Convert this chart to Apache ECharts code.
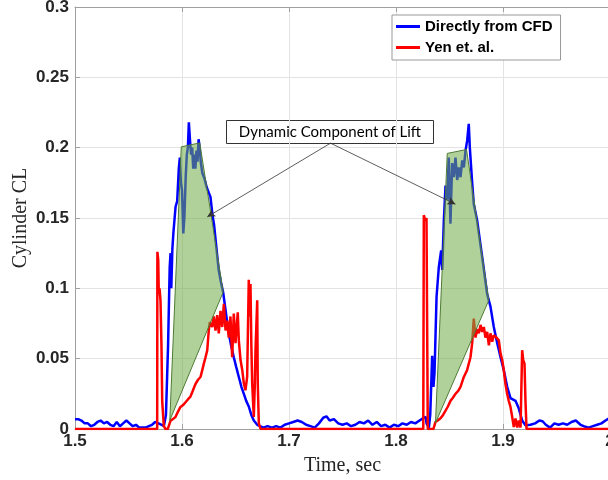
<!DOCTYPE html>
<html>
<head>
<meta charset="utf-8">
<script src="https://cdn.jsdelivr.net/npm/echarts@6/dist/echarts.min.js"></script>
<style>
  html, body { margin: 0; padding: 0; background: #fff; }
  #chart { width: 608px; height: 480px; }
</style>
</head>
<body>
<div id="chart"></div>
<script>
// lift from CFD (blue)
var cfdTime = [1.500,1.503,1.506,1.509,1.512,1.515,1.518,1.521,1.524,1.527,1.530,1.533,1.536,1.539,1.542,1.545,1.548,1.551,1.554,1.557,1.560,1.563,1.566,1.569,1.572,1.575,1.578,1.581,1.583,
  1.585,1.587,1.5885,1.5893,1.5900,1.5910,1.5920,1.5940,1.5955,1.5970,1.5980,1.5990,1.6000,1.6012,1.6022,1.6035,1.6045,1.6055,1.6064,1.6075,1.6085,1.6095,1.6105,1.6115,1.6125,1.6135,1.6145,1.6155,1.6165,1.6175,1.6190,1.6210,1.6230,1.6250,1.6266,1.6285,1.6300,1.6320,1.6343,1.6365,1.6385,1.6391,1.6415,1.6437,1.6460,1.6484,1.6507,1.6531,1.6555,1.6578,1.6600,1.6624,1.6648,1.6671,1.6703,
  1.672,1.676,1.680,1.684,1.688,1.692,1.696,1.700,1.704,1.708,1.712,1.716,1.720,1.724,1.728,1.732,1.735,1.738,1.742,1.746,1.750,1.754,1.758,1.762,1.766,1.770,1.774,1.778,1.782,1.786,1.790,1.794,1.798,1.802,1.806,1.810,1.814,1.818,1.822,1.826,1.828,
  1.8285,1.8307,1.8320,1.8338,1.8350,1.8360,1.8379,1.8400,1.8422,1.8432,1.8447,1.8463,1.8479,1.8493,1.8509,1.8525,1.8540,1.8556,1.8572,1.8587,1.8603,1.8619,1.8634,1.8650,1.8665,1.8680,1.8690,1.8712,1.8727,1.8759,1.8806,1.8852,1.8883,1.8914,1.8946,1.8977,1.9007,1.9039,1.9070,1.9117,1.9148,1.9179,1.9210,
  1.9257,1.930,1.934,1.937,1.940,1.944,1.948,1.952,1.956,1.960,1.964,1.968,1.9693,1.9725,1.9755,1.980,1.984,1.988,1.992,1.9958,2.000];
var cfdLift = [.007,.007,.006,.004,.004,.002,.003,.005,.006,.004,.005,.003,.002,.005,.002,.004,.006,.004,.002,.003,.001,.001,.001,.002,.003,.005,.004,.003,.002,
  .010,.060,.115,.125,.100,.128,.140,.158,.162,.185,.193,.175,.170,.139,.150,.180,.195,.200,.218,.205,.195,.200,.185,.195,.185,.198,.190,.206,.200,.190,.182,.178,.172,.168,.165,.152,.145,.130,.113,.104,.097,.096,.080,.068,.059,.051,.044,.037,.030,.025,.020,.016,.010,.006,.003,
  .002,.001,.002,.001,.002,.001,.003,.004,.005,.006,.005,.003,.002,.001,.004,.008,.009,.006,.007,.004,.003,.004,.002,.003,.005,.004,.006,.003,.005,.002,.003,.001,.003,.002,.004,.003,.005,.004,.006,.008,.0085,
  .004,.001,.010,.052,.030,.040,.094,.115,.127,.113,.148,.173,.163,.193,.146,.189,.179,.193,.177,.186,.179,.191,.186,.198,.205,.217,.200,.175,.160,.148,.122,.096,.087,.0725,.061,.051,.042,.030,.022,.020,.0145,.006,.0026,
  .003,.004,.006,.0055,.003,.001,.004,.003,.004,.003,.005,.006,.0067,.003,.002,.001,.002,.003,.004,.006,.008];

// Yen et. al. (red)
var yenTime = [1.5000,1.5768,1.5770,1.5778,1.5783,1.5790,1.5799,1.5808,1.5815,1.5830,1.5846,1.5867,1.5880,1.5893,1.5915,1.5939,1.5960,1.5986,1.6010,1.6033,1.6055,1.6079,1.6100,1.6126,1.6150,1.6173,1.6190,1.6204,1.6220,1.6236,1.6250,1.6260,1.6282,1.6297,1.6313,1.6329,1.6344,1.6360,1.6376,1.6391,1.6407,1.6422,1.6437,1.6453,1.6469,1.6484,1.6500,1.6521,1.6531,1.6547,1.6563,1.6578,1.6593,1.6609,1.6624,1.6634,1.6640,1.6648,1.6656,1.6671,1.6680,1.6687,1.6703,1.6708,1.6718,1.6734,
  1.8255,1.8260,1.8275,1.8285,1.8292,1.8297,1.8350,1.8369,1.8390,1.8416,1.8440,1.8463,1.8485,1.8509,1.8530,1.8556,1.8580,1.8603,1.8634,1.8665,1.8696,1.8712,1.8727,1.8743,1.8759,1.8774,1.8790,1.8806,1.8821,1.8836,1.8852,1.8868,1.8883,1.8899,1.8914,1.8939,1.8961,1.8977,1.8993,1.9007,1.9023,1.9039,1.9054,1.9070,1.9086,1.9101,1.9117,1.9133,1.9148,1.9164,1.9179,1.9189,1.9201,1.9210,1.9220,2.0000];
var yenLift = [0,0,.126,.120,.096,.100,.0915,.060,.020,.002,0,0,.003,.006,.007,.0085,.012,.0157,.017,.019,.021,.023,.027,.032,.035,.037,.042,.0465,.051,.056,.070,.076,.0725,.080,.070,.081,.068,.084,.0725,.089,.070,.077,.065,.080,.051,.082,.061,.083,.063,.049,.042,.0325,.0275,.037,.106,.080,.103,.060,.0325,.0085,.030,.056,.0915,.0325,.004,0,
  0,.152,.148,.150,.151,0,0,.005,.006,.0076,.010,.013,.016,.020,.022,.025,.027,.030,.037,.042,.051,.061,.0785,.065,.071,.068,.074,.069,.0725,.065,.069,.0595,.068,.062,.0666,.065,.063,.0536,.049,.042,.032,.025,.020,.0157,.0085,.0014,.0074,.001,.006,.001,.056,.049,.0465,.020,0,0];

// shaded "dynamic component" regions, vertices [time, CL]
var dynZone1 = [[1.5993, 0.2006], [1.6166, 0.2034], [1.6385, 0.0974], [1.5886, 0.0062]];
var dynZone2 = [[1.8479, 0.1959], [1.8659, 0.1987], [1.8867, 0.0915], [1.8369, 0.0043]];

// annotation arrows: from label to the two regions
var arrowFrom = [1.7388, 0.2032];
var arrowTo1 = [1.6236, 0.1508];
var arrowTo2 = [1.8556, 0.1598];

var xTicks = [1.5, 2.0, 0.1];
var yTicks = [0, 0.3, 0.05];

function zip(a, b) {
    var out = [];
    for (var i = 0; i < a.length; i++) out.push([a[i], b[i]]);
    return out;
}

var chart = echarts.init(document.getElementById('chart'));
var tickFont = { fontFamily: 'Liberation Sans', fontWeight: 'bold', fontSize: 17, color: '#262626' };
var gridLine = { show: true, lineStyle: { color: '#e3e3e3', width: 1 } };

var option = {
    animation: false,
    grid: { left: 75, right: -2, top: 7, bottom: 51, outerBoundsMode: 'none' },
    xAxis: [{
        type: 'value', min: xTicks[0], max: xTicks[1], interval: xTicks[2],
        name: 'Time, sec', nameLocation: 'middle', nameGap: 27, nameMoveOverlap: false,
        nameTextStyle: { fontFamily: 'Liberation Serif', fontSize: 20, color: '#262626' },
        axisLine: { show: true, lineStyle: { color: '#a0a0a0', width: 1 } },
        axisTick: { show: true, inside: true, length: 5, lineStyle: { color: '#a0a0a0' } },
        axisLabel: Object.assign({ margin: 4 }, tickFont),
        splitLine: gridLine
    }, {
        type: 'value', position: 'top', min: xTicks[0], max: xTicks[1], interval: xTicks[2],
        axisLine: { show: true, lineStyle: { color: '#a0a0a0', width: 1 } },
        axisTick: { show: true, inside: true, length: 5, lineStyle: { color: '#a0a0a0' } },
        axisLabel: { show: false }, splitLine: { show: false }
    }],
    yAxis: {
        type: 'value', min: yTicks[0], max: yTicks[1], interval: yTicks[2],
        name: 'Cylinder CL', nameLocation: 'middle', nameGap: 44, nameMoveOverlap: false,
        nameTextStyle: { fontFamily: 'Liberation Serif', fontSize: 20, color: '#262626' },
        axisLine: { show: true, lineStyle: { color: '#a0a0a0', width: 1 } },
        axisTick: { show: true, inside: true, length: 5, lineStyle: { color: '#a0a0a0' } },
        axisLabel: Object.assign({ margin: 6 }, tickFont),
        splitLine: gridLine
    },
    legend: {
        orient: 'vertical', left: 392, top: 15,
        padding: [3, 8, 4, 4], itemGap: 4, itemWidth: 24, itemHeight: 3,
        backgroundColor: '#fff', borderColor: '#999', borderWidth: 1, borderRadius: 0,
        icon: 'rect',
        textStyle: { fontFamily: 'Liberation Sans', fontWeight: 'bold', fontSize: 15, lineHeight: 17, color: '#000' },
        data: ['Directly from CFD', 'Yen et. al.']
    },
    series: [{
        name: 'Directly from CFD', type: 'line', showSymbol: false, symbol: 'none',
        data: zip(cfdTime, cfdLift), color: '#0000ff',
        lineStyle: { color: '#0000ff', width: 2.5 }, z: 2
    }, {
        name: 'Yen et. al.', type: 'line', showSymbol: false, symbol: 'none',
        data: zip(yenTime, yenLift), color: '#ff0000',
        lineStyle: { color: '#ff0000', width: 2.5 }, z: 3,
        markLine: {
            silent: true, animation: false,
            symbol: ['none', 'arrow'], symbolSize: [6, 8],
            label: { show: false },
            lineStyle: { color: '#333', width: 0.8, type: 'solid' },
            data: [
                [{ coord: arrowFrom }, { coord: arrowTo1 }],
                [{ coord: arrowFrom }, { coord: arrowTo2 }]
            ]
        }
    }, {
        type: 'custom', z: 4, silent: true,
        data: [dynZone1, dynZone2].map(function (p) { return [].concat.apply([], p); }),
        encode: { x: [0, 2, 4, 6], y: [1, 3, 5, 7] },
        renderItem: function (params, api) {
            var pts = [];
            for (var k = 0; k < 4; k++) {
                pts.push(api.coord([api.value(2 * k), api.value(2 * k + 1)]));
            }
            return {
                type: 'polygon',
                shape: { points: pts },
                style: { fill: 'rgba(112,173,71,0.55)', stroke: '#4f7a35', lineWidth: 1 }
            };
        }
    }],
    graphic: [{
        type: 'group', left: 226, top: 120, z: 100,
        children: [{
            type: 'rect', shape: { x: 0, y: 0, width: 207, height: 23 },
            style: { fill: '#fff', stroke: '#333', lineWidth: 1 }
        }, {
            type: 'text', x: 103.5, y: 11.5,
            style: { text: 'Dynamic Component of Lift', fontFamily: 'Lato', fontSize: 15,
                     fill: '#000', align: 'center', verticalAlign: 'middle' }
        }]
    }]
};
chart.setOption(option);
</script>
</body>
</html>
